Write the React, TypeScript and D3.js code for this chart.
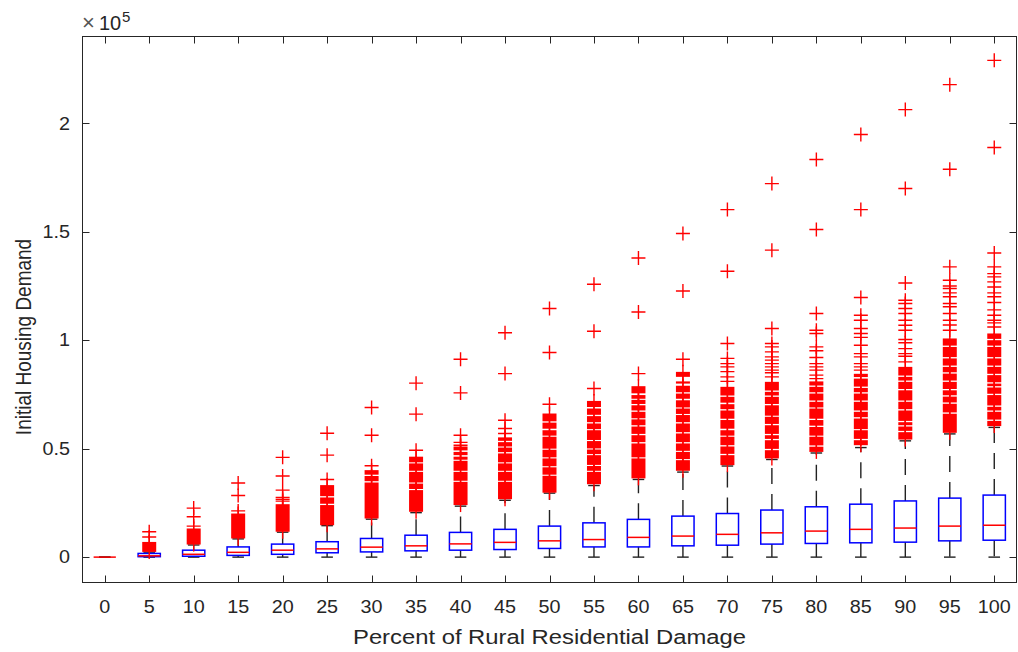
import React from 'react';
import * as d3 from 'd3';

// All values below are in units of 10^4 (housing units)
const UNIT = 1e4;

const categories = [0, 5, 10, 15, 20, 25, 30, 35, 40, 45, 50, 55, 60, 65, 70, 75, 80, 85, 90, 95, 100];

const q1 = [0, 0.02, 0.04, 0.08, 0.13, 0.2, 0.24, 0.29, 0.32, 0.35, 0.4, 0.47, 0.47, 0.52, 0.55, 0.6, 0.63, 0.66, 0.69, 0.75, 0.78];
const medians = [0, 0.06, 0.13, 0.22, 0.32, 0.38, 0.46, 0.52, 0.61, 0.68, 0.75, 0.81, 0.91, 0.97, 1.05, 1.12, 1.2, 1.28, 1.34, 1.43, 1.47];
const q3 = [0, 0.17, 0.32, 0.47, 0.6, 0.71, 0.86, 1.01, 1.14, 1.28, 1.43, 1.58, 1.74, 1.89, 2.01, 2.17, 2.32, 2.44, 2.59, 2.72, 2.86];
const whiskerLow = [0, 0, 0, 0, 0, 0, 0, 0, 0, 0, 0, 0, 0, 0, 0, 0, 0, 0, 0, 0, 0];
const whiskerHigh = [0, 0.23, 0.56, 0.84, 1.15, 1.45, 1.75, 2.05, 2.35, 2.62, 2.95, 3.3, 3.58, 3.92, 4.2, 4.5, 4.8, 5.05, 5.36, 5.68, 5.98];

// dense runs of outliers (visually merged markers): [low, high]
const outlierBands: number[][][] = [
  [],
  [[0.24, 0.7]],
  [[0.58, 1.32]],
  [[0.86, 2.01]],
  [[1.17, 2.44]],
  [[1.47, 2.4], [2.46, 2.75], [2.81, 3.32]],
  [[1.78, 3.44], [3.5, 3.74], [3.8, 4.01]],
  [[2.09, 3.09], [3.14, 3.39], [3.44, 3.93], [3.98, 4.32], [4.37, 4.63]],
  [[2.4, 3.47], [3.52, 3.93], [3.98, 4.44], [4.49, 4.63], [4.7, 4.85], [4.92, 5.1]],
  [[2.67, 3.47], [3.52, 3.93], [3.98, 4.32], [4.37, 4.78], [4.84, 5.05], [5.1, 5.3], [5.36, 5.52]],
  [[2.97, 3.75], [3.8, 4.14], [4.19, 4.55], [4.6, 4.95], [5.0, 5.55], [5.6, 5.85], [5.92, 6.2], [6.26, 6.62]],
  [[3.36, 3.93], [3.98, 4.2], [4.25, 4.7], [4.75, 4.96], [5.01, 5.35], [5.4, 5.85], [5.9, 6.16], [6.22, 6.5], [6.56, 6.85], [6.92, 7.2]],
  [[3.63, 4.55], [4.6, 5.24], [5.3, 5.62], [5.68, 6.02], [6.08, 6.35], [6.4, 6.7], [6.76, 7.0], [7.06, 7.25], [7.3, 7.47], [7.55, 7.88]],
  [[3.98, 4.47], [4.52, 4.85], [4.9, 5.24], [5.3, 5.7], [5.76, 6.16], [6.22, 6.55], [6.6, 6.85], [6.9, 7.23], [7.3, 7.54], [7.6, 7.9], [8.0, 8.1], [8.31, 8.54]],
  [[4.24, 4.7], [4.76, 5.1], [5.16, 5.55], [5.6, 5.85], [5.92, 6.32], [6.38, 6.76], [6.82, 7.05], [7.12, 7.39], [7.45, 7.85]],
  [[4.55, 4.93], [4.99, 5.39], [5.45, 5.62], [5.68, 6.08], [6.14, 6.47], [6.52, 7.0], [7.06, 7.39], [7.45, 7.62], [7.68, 8.08]],
  [[4.85, 5.09], [5.15, 5.55], [5.6, 6.0], [6.06, 6.32], [6.38, 6.85], [6.9, 7.16], [7.22, 7.54], [7.6, 7.85], [7.91, 8.1]],
  [[5.16, 5.39], [5.45, 5.85], [5.9, 6.39], [6.45, 6.7], [6.76, 7.16], [7.22, 7.54], [7.6, 7.8], [7.86, 8.23], [8.3, 8.45]],
  [[5.42, 5.76], [5.82, 6.02], [6.08, 6.22], [6.28, 6.76], [6.82, 7.16], [7.22, 7.69], [7.75, 8.08], [8.14, 8.31], [8.37, 8.77]],
  [[5.73, 6.61], [6.67, 7.07], [7.13, 7.4], [7.46, 7.69], [7.75, 8.08], [8.14, 8.46], [8.52, 8.77], [8.83, 9.16], [9.22, 9.69], [9.75, 10.08]],
  [[6.04, 6.28], [6.34, 6.7], [6.76, 6.93], [6.99, 7.47], [7.53, 7.82], [7.88, 8.0], [8.06, 8.39], [8.45, 8.77], [8.83, 9.16], [9.22, 9.69], [9.75, 10.0], [10.06, 10.31]],
];

// individual outliers
const outlierPoints: number[][] = [
  [],
  [0.93, 1.17],
  [1.43, 1.86, 2.26],
  [2.13, 2.84, 3.42],
  [2.58, 2.66, 2.75, 3.09, 3.74, 4.6],
  [3.58, 4.7, 5.71],
  [4.21, 5.62, 6.9],
  [4.93, 6.59, 8.02],
  [5.16, 5.29, 5.62, 7.57, 9.12],
  [5.7, 5.93, 6.31, 8.46, 10.34],
  [7.05, 9.43, 11.46],
  [7.77, 10.41, 12.58],
  [8.46, 11.3, 13.79],
  [9.12, 12.27, 14.92],
  [8.1, 8.31, 8.55, 8.77, 8.92, 9.16, 9.85, 13.18, 16.02],
  [8.31, 8.5, 8.62, 8.77, 8.92, 9.08, 9.23, 9.46, 9.69, 9.85, 10.54, 14.15, 17.22],
  [8.23, 8.39, 8.62, 8.77, 8.92, 9.2, 9.51, 9.69, 10.31, 10.46, 11.23, 15.1, 18.33],
  [8.62, 8.77, 8.92, 9.23, 9.38, 9.77, 10.13, 10.31, 10.54, 10.92, 11.15, 11.97, 16.02, 19.48],
  [9.0, 9.26, 9.38, 9.61, 9.88, 10.03, 10.46, 10.69, 10.92, 11.23, 11.46, 11.69, 11.84, 12.64, 16.99, 20.63],
  [10.46, 10.7, 10.92, 11.23, 11.54, 11.69, 12.0, 12.18, 12.38, 12.5, 12.76, 13.38, 17.88, 21.78],
  [10.61, 10.8, 10.92, 11.15, 11.4, 11.74, 12.0, 12.18, 12.45, 12.69, 12.92, 13.07, 13.38, 14.02, 18.88, 22.9],
];

const yTicks = [0, 50000, 100000, 150000, 200000];
const yTickLabels = ['0', '0.5', '1', '1.5', '2'];
const xLabel = 'Percent of Rural Residential Damage';
const yLabel = 'Initial Housing Demand';

const AX = '#262626';
const FONT = '"Liberation Sans", Arial, Helvetica, sans-serif';

export default function App() {
  const n = categories.length;
  const x = d3.scaleLinear().domain([0.5, n + 0.5]).range([82.5, 1016.5]);
  const y = d3.scaleLinear().domain([-11700, 240000]).range([582.5, 36.5]);
  const step = x(2) - x(1);
  const boxW = step * 0.5;
  const capW = step * 0.26;
  const m = 7; // marker half size
  const [x0, x1] = x.range();
  const [yb, yt] = y.range();
  const tickLen = 7;
  const v = (val: number) => y(val * UNIT);

  const plus = (cx: number, cy: number) => `M${cx - m},${cy}H${cx + m}M${cx},${cy - m}V${cy + m}`;

  return (
    <svg width={1018} height={652} style={{ position: 'absolute', left: 0, top: 0, background: '#fff' }}>
      <rect x={0} y={0} width={1018} height={652} fill="#fff" />
      {/* whiskers */}
      {categories.map((c, i) => {
        const cx = x(i + 1);
        return (
          <g key={'w' + c}>
            <path d={`M${cx},${v(q3[i])}V${v(whiskerHigh[i])}`} stroke="#222" strokeWidth={1.4} strokeDasharray="16,10" fill="none" />
            <path d={`M${cx},${v(q1[i])}V${v(whiskerLow[i])}`} stroke="#222" strokeWidth={1.4} strokeDasharray="16,10" fill="none" />
            <line x1={cx - capW / 2} x2={cx + capW / 2} y1={v(whiskerHigh[i])} y2={v(whiskerHigh[i])} stroke="#222" strokeWidth={1.4} />
            <line x1={cx - capW / 2} x2={cx + capW / 2} y1={v(whiskerLow[i])} y2={v(whiskerLow[i])} stroke="#222" strokeWidth={1.4} />
          </g>
        );
      })}
      {/* boxes */}
      {categories.map((c, i) => {
        const cx = x(i + 1);
        return (
          <g key={'b' + c}>
            <rect x={cx - boxW / 2} y={v(q3[i])} width={boxW} height={Math.max(0, v(q1[i]) - v(q3[i]))} fill="none" stroke="#0000ff" strokeWidth={1.5} />
            <line x1={cx - boxW / 2} x2={cx + boxW / 2} y1={v(medians[i])} y2={v(medians[i])} stroke="#ff0000" strokeWidth={1.5} />
          </g>
        );
      })}
      {/* outliers */}
      {categories.map((c, i) => {
        const cx = x(i + 1);
        return (
          <g key={'o' + c} stroke="#ff0000" fill="#ff0000" strokeWidth={1.4}>
            {outlierBands[i].map(([lo, hi], k) => (
              <g key={k}>
                <rect x={cx - m} y={v(hi)} width={2 * m} height={v(lo) - v(hi)} stroke="none" />
                <line x1={cx} x2={cx} y1={v(hi) - m} y2={v(lo) + m} />
              </g>
            ))}
            {outlierPoints[i].map((p, k) => (
              <path key={'p' + k} d={plus(cx, v(p))} fill="none" />
            ))}
          </g>
        );
      })}
      {/* axes box */}
      <rect x={x0} y={yt} width={x1 - x0} height={yb - yt} fill="none" stroke={AX} strokeWidth={1} />
      {/* x ticks */}
      {categories.map((c, i) => {
        const cx = Math.round(x(i + 1)) + 0.5;
        return (
          <g key={'xt' + c}>
            <line x1={cx} x2={cx} y1={yb} y2={yb - tickLen} stroke={AX} />
            <line x1={cx} x2={cx} y1={yt} y2={yt + tickLen} stroke={AX} />
            <text transform={`translate(${x(i + 1)},${612.5}) scale(1.13,1)`} textAnchor="middle" fontFamily={FONT} fontSize={17.5} fill={AX}>{c}</text>
          </g>
        );
      })}
      {/* y ticks */}
      {yTicks.map((t, i) => {
        const cy = Math.round(y(t)) + 0.5;
        return (
          <g key={'yt' + t}>
            <line x1={x0} x2={x0 + tickLen} y1={cy} y2={cy} stroke={AX} />
            <line x1={x1} x2={x1 - tickLen} y1={cy} y2={cy} stroke={AX} />
            <text transform={`translate(${70},${y(t) + 6.3}) scale(1.13,1)`} textAnchor="end" fontFamily={FONT} fontSize={17.5} fill={AX}>{yTickLabels[i]}</text>
          </g>
        );
      })}
      {/* exponent */}
      <text x={82} y={30} fontFamily={FONT} fontSize={22} fill="#555">×</text>
      <text x={99} y={30} fontFamily={FONT} fontSize={20} fill={AX}>10</text>
      <text x={122} y={21.5} fontFamily={FONT} fontSize={15} fill={AX}>5</text>
      {/* labels */}
      <text x={(x0 + x1) / 2} y={643.5} textAnchor="middle" fontFamily={FONT} fontSize={19.5} fill={AX} textLength={393} lengthAdjust="spacingAndGlyphs">{xLabel}</text>
      <text transform={`translate(31,337) scale(1.2,1) rotate(-90)`} textAnchor="middle" fontFamily={FONT} fontSize={19} fill={AX}>{yLabel}</text>
    </svg>
  );
}
